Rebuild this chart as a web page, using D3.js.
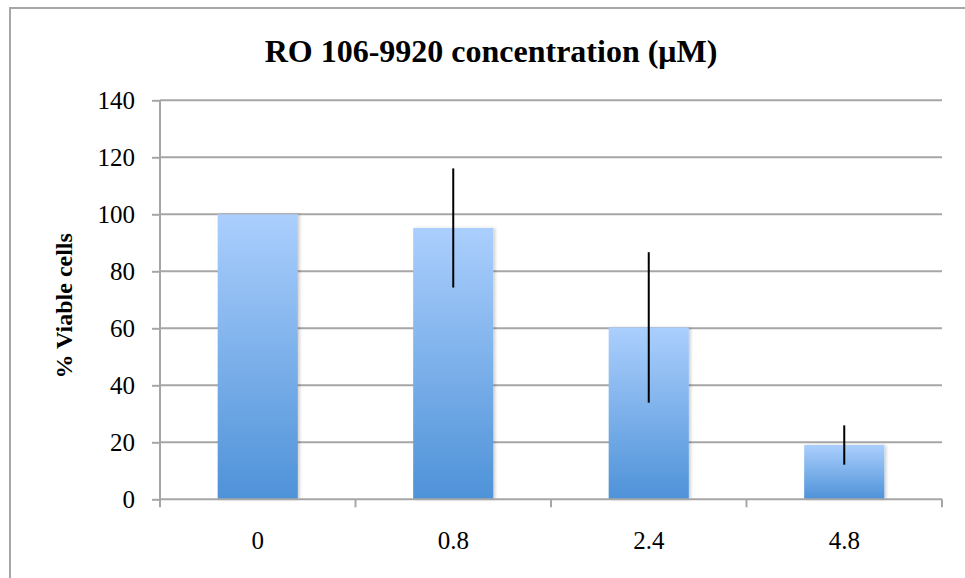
<!DOCTYPE html>
<html>
<head>
<meta charset="utf-8">
<script src="https://cdn.jsdelivr.net/npm/d3@7"></script>
<style>
  html, body { margin: 0; padding: 0; background: #fff; }
  svg { display: block; }
</style>
</head>
<body>
<svg id="chart" width="965" height="578"></svg>
<script>
// Viability by RO 106-9920 concentration (mean ± error)
const concentrations = ["0", "0.8", "2.4", "4.8"];
const viable = [100, 95.2, 60.3, 19.05];
const errors = [0, 20.9, 26.4, 6.9];
const yTicks = [0, 20, 40, 60, 80, 100, 120, 140];

const svg = d3.select("#chart");
const W = 965, H = 578;
const plot = { left: 160, right: 942, top: 100.3, bottom: 499.3 };
const serif = "'Liberation Serif', 'Times New Roman', serif";

// chart frame
svg.append("rect")
  .attr("x", 10).attr("y", 8)
  .attr("width", W + 20).attr("height", H + 20)
  .attr("fill", "#fff").attr("stroke", "#a6a6a6").attr("stroke-width", 2);

const x = d3.scaleBand().domain(concentrations).range([plot.left, plot.right]).paddingInner(0.59).paddingOuter(0.295);
const y = d3.scaleLinear().domain([0, 140]).range([plot.bottom, plot.top]);

// bar gradient
const defs = svg.append("defs");
const grad = defs.append("linearGradient").attr("id", "barFill")
  .attr("x1", 0).attr("y1", 0).attr("x2", 0).attr("y2", 1);
grad.append("stop").attr("offset", "0%").attr("stop-color", "#abcffd");
grad.append("stop").attr("offset", "100%").attr("stop-color", "#4e92d8");
const shadow = defs.append("filter").attr("id", "barShadow")
  .attr("x", "-10%").attr("y", "-10%").attr("width", "130%").attr("height", "120%");
shadow.append("feDropShadow").attr("dx", 2).attr("dy", 0).attr("stdDeviation", 1.5)
  .attr("flood-color", "#000").attr("flood-opacity", 0.18);

// horizontal gridlines
svg.append("g").selectAll("line").data(yTicks.filter(d => d > 0)).join("line")
  .attr("x1", plot.left).attr("x2", plot.right)
  .attr("y1", d => y(d)).attr("y2", d => y(d))
  .attr("stroke", "#a6a6a6").attr("stroke-width", 2);

// y axis
const yAxis = svg.append("g").attr("transform", `translate(${plot.left},0)`)
  .call(d3.axisLeft(y).tickValues(yTicks).tickSize(8).tickPadding(17));
yAxis.select(".domain").attr("stroke", "#a6a6a6").attr("stroke-width", 2)
  .attr("d", `M0,${plot.top}V${plot.bottom}`);
yAxis.selectAll(".tick line").attr("stroke", "#a6a6a6").attr("stroke-width", 2);
yAxis.selectAll(".tick text")
  .attr("font-family", serif).attr("font-size", 25).attr("fill", "#000").attr("dy", "0.34em");

// bars
svg.append("g").selectAll("rect").data(concentrations).join("rect")
  .attr("x", d => x(d)).attr("width", x.bandwidth())
  .attr("y", (d, i) => y(viable[i]))
  .attr("height", (d, i) => y(0) - y(viable[i]))
  .attr("fill", "url(#barFill)")
  .attr("filter", "url(#barShadow)");

// x axis
const xAxis = svg.append("g").attr("transform", `translate(0,${plot.bottom})`);
xAxis.append("line").attr("x1", plot.left).attr("x2", plot.right)
  .attr("stroke", "#a6a6a6").attr("stroke-width", 2);
const boundaries = d3.range(concentrations.length + 1).map(i => plot.left + i * (plot.right - plot.left) / concentrations.length);
xAxis.selectAll(".tickmark").data(boundaries).join("line")
  .attr("class", "tickmark")
  .attr("x1", d => d).attr("x2", d => d).attr("y1", 0).attr("y2", 8)
  .attr("stroke", "#a6a6a6").attr("stroke-width", 2);
xAxis.selectAll("text").data(concentrations).join("text")
  .attr("x", d => x(d) + x.bandwidth() / 2).attr("y", 50)
  .attr("text-anchor", "middle")
  .attr("font-family", serif).attr("font-size", 25).attr("fill", "#000")
  .text(d => d);

// error bars
svg.append("g").selectAll("line").data(concentrations.filter((d, i) => errors[i] > 0)).join("line")
  .attr("x1", d => x(d) + x.bandwidth() / 2).attr("x2", d => x(d) + x.bandwidth() / 2)
  .attr("y1", d => { const i = concentrations.indexOf(d); return y(viable[i] + errors[i]); })
  .attr("y2", d => { const i = concentrations.indexOf(d); return y(viable[i] - errors[i]); })
  .attr("stroke", "#000").attr("stroke-width", 2);

// title
svg.append("text")
  .attr("x", 491).attr("y", 62)
  .attr("text-anchor", "middle")
  .attr("font-family", serif).attr("font-weight", "bold").attr("font-size", 32)
  .attr("fill", "#000")
  .text("RO 106-9920 concentration (μM)");

// y axis title
svg.append("text")
  .attr("transform", `translate(72,${(plot.top + plot.bottom) / 2 + 6}) rotate(-90)`)
  .attr("text-anchor", "middle")
  .attr("font-family", serif).attr("font-weight", "bold").attr("font-size", 24)
  .attr("fill", "#000")
  .text("% Viable cells");
</script>
</body>
</html>
